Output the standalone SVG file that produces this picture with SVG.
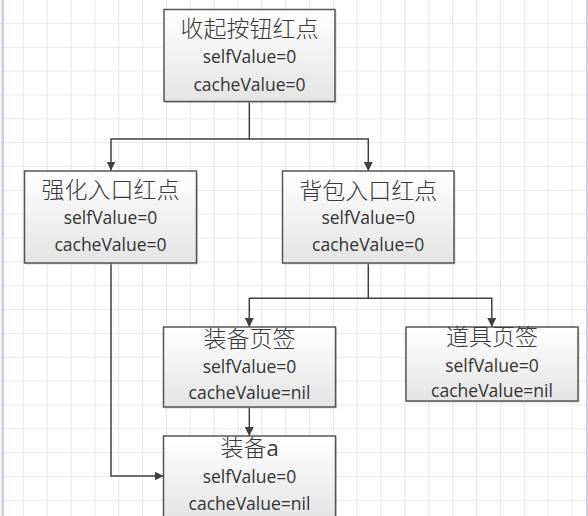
<svg xmlns="http://www.w3.org/2000/svg" width="588" height="516" viewBox="0 0 588 516">
<defs>
<pattern id="grid" x="0" y="0" width="23.85" height="23.85" patternUnits="userSpaceOnUse">
<path d="M23.85 0V23.85M0 23.85H23.85" fill="none" stroke="#d6d6d6" stroke-width="1.2"/>
</pattern>
<linearGradient id="boxfill" x1="0" y1="0" x2="0" y2="1">
<stop offset="0" stop-color="#ffffff"/>
<stop offset="1" stop-color="#e4e4e4"/>
</linearGradient>
<marker id="arr" viewBox="0 0 10 10" refX="10" refY="5" markerWidth="9" markerHeight="9" markerUnits="userSpaceOnUse" orient="auto">
<path d="M0 0L10 5L0 10Z" fill="#404040"/>
</marker>
</defs>
<style>
.box{fill:url(#boxfill);stroke:#555555;stroke-width:1.5}
.shadow{fill:#b8b8b8;opacity:0.6}
.t{font-family:"Noto Sans CJK SC","Noto Sans",sans-serif;font-size:23px;font-weight:300;fill:#3a3a3a;text-anchor:middle}
.lat{font-family:"Open Sans","Liberation Sans",sans-serif;font-weight:400;font-size:22px}
.v{font-family:"Open Sans","Liberation Sans",sans-serif;font-size:17.5px;fill:#333333;text-anchor:middle}
.c{fill:none;stroke:#404040;stroke-width:1.5}
</style>
<rect width="588" height="516" fill="#ffffff"/>
<rect width="588" height="516" fill="url(#grid)"/>
<rect x="1.5" y="0" width="2.5" height="516" fill="#c4cff5"/>
<rect x="586" y="0" width="2" height="516" fill="#c4cff5"/>

<g id="connectors">
<path class="c" d="M249.3 101.5V139H111V170.5" marker-end="url(#arr)"/>
<path class="c" d="M249.3 139H368.3V171" marker-end="url(#arr)"/>
<path class="c" d="M368.3 263V298.3H249.3V327" marker-end="url(#arr)"/>
<path class="c" d="M368.3 298.3H491.8V327" marker-end="url(#arr)"/>
<path class="c" d="M249.3 407V436" marker-end="url(#arr)"/>
<path class="c" d="M111 263V476H163.5" marker-end="url(#arr)"/>
</g>

<g id="node-shouqi">
<rect class="shadow" x="165.5" y="11" width="171" height="92"/>
<rect class="box" x="164" y="9.5" width="171" height="92"/>
<text class="t" x="249.5" y="37">收起按钮红点</text>
<text class="v" x="249.5" y="63.3">selfValue=0</text>
<text class="v" x="249.5" y="90.7">cacheValue=0</text>
</g>

<g id="node-qianghua">
<rect class="shadow" x="26" y="172.5" width="172" height="92"/>
<rect class="box" x="24.5" y="171" width="172" height="92"/>
<text class="t" x="110.5" y="198">强化入口红点</text>
<text class="v" x="110.5" y="224">selfValue=0</text>
<text class="v" x="110.5" y="250.7">cacheValue=0</text>
</g>

<g id="node-beibao">
<rect class="shadow" x="284" y="172.5" width="171.5" height="92"/>
<rect class="box" x="282.5" y="171" width="171.5" height="92"/>
<text class="t" x="368.2" y="198.5">背包入口红点</text>
<text class="v" x="368.2" y="224">selfValue=0</text>
<text class="v" x="368.2" y="250.7">cacheValue=0</text>
</g>

<g id="node-zhuangbei-tab">
<rect class="shadow" x="165" y="328.5" width="172" height="80"/>
<rect class="box" x="163.5" y="327" width="172" height="80"/>
<text class="t" x="249.5" y="347">装备页签</text>
<text class="v" x="249.5" y="373.3">selfValue=0</text>
<text class="v" x="249.5" y="399.3">cacheValue=nil</text>
</g>

<g id="node-daoju-tab">
<rect class="shadow" x="407.5" y="328.5" width="172" height="74"/>
<rect class="box" x="406" y="327" width="172" height="74"/>
<text class="t" x="492" y="345">道具页签</text>
<text class="v" x="492" y="371.7">selfValue=0</text>
<text class="v" x="492" y="397.3">cacheValue=nil</text>
</g>

<g id="node-zhuangbei-a">
<rect class="shadow" x="165" y="437.5" width="172" height="84"/>
<rect class="box" x="163.5" y="436" width="172" height="84"/>
<text class="t" x="249.5" y="456">装备<tspan class="lat">a</tspan></text>
<text class="v" x="249.5" y="483.3">selfValue=0</text>
<text class="v" x="249.5" y="510">cacheValue=nil</text>
</g>
</svg>
